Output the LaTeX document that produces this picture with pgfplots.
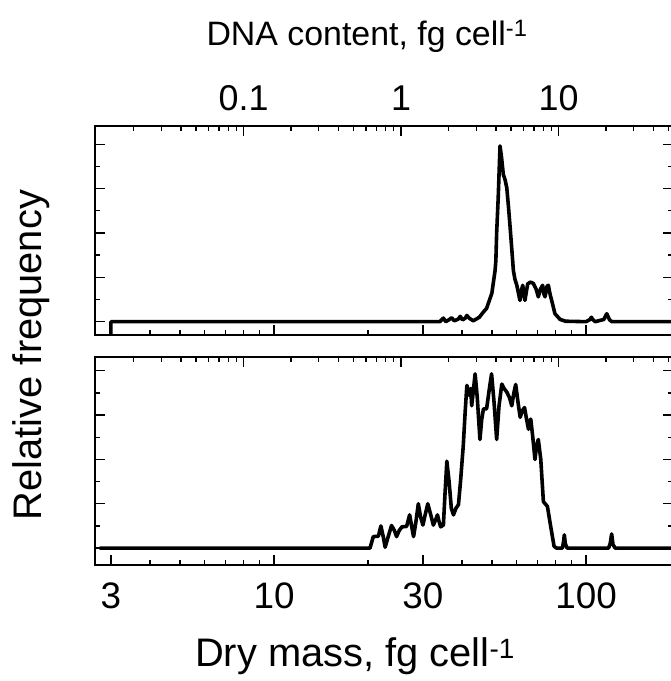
\documentclass[border=0pt]{standalone}
\usepackage{fontspec}
\setmainfont{Liberation Sans}
\usepackage{pgfplots}
\pgfplotsset{compat=1.18}

\pgfplotstableread{
m v
3 -0.3
3 0
34 0
34.9 0.08
35.5 0
36.5 0.05
37.1 0.09
37.8 0.02
39.0 0.06
39.5 0.12
40.2 0.04
41.0 0.08
41.5 0.14
42.2 0.08
43.5 0.02
45.5 0.10
46.9 0.22
48.0 0.30
48.6 0.41
49.9 0.64
50.5 0.9
51.1 1.15
51.4 1.38
51.7 2.0
52.3 2.8
53.0 3.96
53.6 3.7
54.3 3.32
55.0 3.2
55.7 3.02
56.4 2.6
57.1 2.13
58.0 1.5
58.5 1.15
59.2 0.95
60.0 0.82
60.8 0.62
61.4 0.48
61.9 0.68
62.7 0.82
63.2 0.6
63.7 0.48
65.0 0.85
66.2 0.89
67.0 0.88
67.8 0.86
69.3 0.72
70.3 0.56
71.5 0.74
72.6 0.82
73.3 0.62
73.9 0.56
75.0 0.8
75.7 0.82
76.8 0.6
77.6 0.48
79.5 0.18
82.6 0.05
86 0.01
100 0
103 0.05
104 0.1
105 0.05
107 0
114 0.05
116.5 0.18
119 0.04
121 0
190 0
}\toppanel

\pgfplotstableread{
m v
2.77 0
20.3 0
20.8 0.26
21.6 0.27
22.0 0.50
22.4 0.25
22.7 0.02
23.2 0.25
23.8 0.51
24.3 0.40
24.7 0.26
25.2 0.40
25.7 0.48
26.6 0.49
27.2 0.75
27.6 0.5
28.0 0.26
28.5 0.6
29.0 1.0
29.5 0.7
30.0 0.52
30.5 0.75
31.1 1.0
31.8 0.75
32.4 0.52
33.0 0.65
33.4 0.75
33.8 0.6
34.2 0.48
34.9 0.52
35.3 1.2
35.8 1.96
36.4 1.5
37.0 0.9
37.6 0.75
38.3 0.9
39.0 0.98
39.6 1.5
40.4 2.30
41.0 3.1
41.5 3.67
41.9 3.55
42.3 3.44
42.7 3.6
43.0 3.21
43.6 3.6
44.1 3.93
44.8 3.4
45.7 2.45
46.3 2.9
46.9 3.14
48.0 3.14
49.0 3.6
49.8 3.93
50.7 3.3
51.7 2.45
52.6 3.2
53.7 3.70
54.6 3.6
55.7 3.52
56.8 3.4
57.8 3.21
58.7 3.5
59.5 3.69
60.5 3.3
61.5 2.95
62.5 3.1
63.5 3.17
64.5 2.9
65.4 2.68
66.0 2.85
66.5 2.91
67.5 2.5
68.6 2.0
69.4 2.3
70.3 2.45
71.6 2.0
73.0 1.05
75.2 0.94
77.0 0.5
79.0 0.04
80.5 0
84 0
84.7 0.15
85.2 0.30
85.8 0.1
87 0
118 0
119.5 0.1
120.8 0.32
122 0.08
124 0
190 0
}\bottompanel

\begin{document}
\begin{tikzpicture}[x=1bp,y=1bp]
\path[use as bounding box] (0,0) rectangle (671,681);

% top panel
\begin{axis}[scale only axis, width=578bp, height=209bp, xmode=log,
  at={(95bp,346bp)}, anchor=south west,
  axis line style={line width=1.6pt},
  every tick/.append style={line width=1.3pt, black},
  major tick length=10bp, minor tick length=5bp, tick align=inside,
  xmin=2.668, xmax=190,
  xtick={3,10,30,100},
  minor xtick={4,5,6,7,8,9,20,40,50,60,70,80,90,200},
  xtick pos=left, xticklabels={},
  ytick={0,1,2,3,4}, minor ytick={0.5,1.5,2.5,3.5},
  yticklabels={}, ytick pos=both,
  ymin=-0.30, ymax=4.41]
\addplot[black, line width=3.6bp, line join=round, line cap=round, mark=none] table[x=m,y=v] {\toppanel};
\end{axis}
\begin{axis}[scale only axis, width=578bp, height=209bp, xmode=log,
  at={(95bp,346bp)}, anchor=south west,
  axis line style={line width=1.6pt},
  every tick/.append style={line width=1.3pt, black},
  major tick length=10bp, minor tick length=5bp, tick align=inside,
  xmin=0.01140, xmax=53.3,
  xtick={0.1,1,10},
  minor xtick={0.02,0.03,0.04,0.05,0.06,0.07,0.08,0.09,0.2,0.3,0.4,0.5,0.6,0.7,0.8,0.9,2,3,4,5,6,7,8,9,20,30,40,50},
  xtick pos=right,
  xticklabels={0.1,1,10},
  xticklabel style={font=\fontsize{36}{40}\selectfont, yshift=12bp},
  ytick=\empty,
  ymin=-0.30, ymax=4.41]
\end{axis}

% bottom panel
\begin{axis}[scale only axis, width=578bp, height=208bp, xmode=log,
  at={(95bp,116bp)}, anchor=south west,
  axis line style={line width=1.6pt},
  every tick/.append style={line width=1.3pt, black},
  major tick length=10bp, minor tick length=5bp, tick align=inside,
  xmin=2.668, xmax=190,
  xtick={3,10,30,100},
  minor xtick={4,5,6,7,8,9,20,40,50,60,70,80,90,200},
  xtick pos=left,
  xticklabels={3,10,30,100},
  xticklabel style={font=\fontsize{37}{40}\selectfont, yshift=-14bp},
  ytick={0,1,2,3,4}, minor ytick={0.5,1.5,2.5,3.5},
  yticklabels={}, ytick pos=both,
  ymin=-0.38, ymax=4.31]
\addplot[black, line width=3.6bp, line join=round, line cap=round, mark=none] table[x=m,y=v] {\bottompanel};
\end{axis}
\begin{axis}[scale only axis, width=578bp, height=208bp, xmode=log,
  at={(95bp,116bp)}, anchor=south west,
  axis line style={line width=1.6pt},
  every tick/.append style={line width=1.3pt, black},
  major tick length=10bp, minor tick length=5bp, tick align=inside,
  xmin=0.01140, xmax=53.3,
  xtick={0.1,1,10},
  minor xtick={0.02,0.03,0.04,0.05,0.06,0.07,0.08,0.09,0.2,0.3,0.4,0.5,0.6,0.7,0.8,0.9,2,3,4,5,6,7,8,9,20,30,40,50},
  xtick pos=right, xticklabels={},
  ytick=\empty,
  ymin=-0.38, ymax=4.31]
\end{axis}

\node[anchor=base, font=\fontsize{34}{40}\selectfont] at (367,635) {DNA content, fg cell\textsuperscript{-1}};
\node[anchor=base, font=\fontsize{40}{46}\selectfont] at (355,14) {Dry mass, fg cell\textsuperscript{-1}};
\node[anchor=base, rotate=90, font=\fontsize{40}{46}\selectfont] at (41,326) {Relative frequency};
\end{tikzpicture}
\end{document}
